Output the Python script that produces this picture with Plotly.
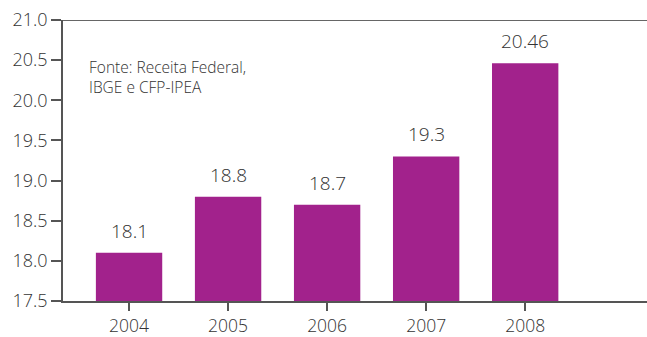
import plotly.graph_objects as go

years = ["2004", "2005", "2006", "2007", "2008"]
values = [18.1, 18.8, 18.7, 19.3, 20.46]
value_labels = ["18.1", "18.8", "18.7", "19.3", "20.46"]
source_note = "Fonte: Receita Federal,<br>IBGE e CFP-IPEA"

FONT = "Open Sans"
WEIGHT = 300
TEXT = "#333333"
AXIS = "#555555"
BAR = "#A2228C"

fig = go.Figure(
    go.Bar(
        x=years,
        y=values,
        marker=dict(color=BAR, line=dict(width=0)),
        width=0.67,
        hoverinfo="skip",
    )
)

# value labels above each bar (x given as category index)
for i, (v, lab) in enumerate(zip(values, value_labels)):
    fig.add_annotation(
        x=i, y=v, text=lab, showarrow=False,
        yanchor="bottom", yshift=7,
        font=dict(family=FONT, size=19, color=TEXT, weight=WEIGHT),
    )

fig.add_annotation(
    xref="paper", yref="paper", x=0.041, y=0.878,
    xanchor="left", yanchor="top", align="left",
    text=source_note, showarrow=False,
    font=dict(family=FONT, size=15.5, color=TEXT, weight=WEIGHT),
)

# top border line at 21.0
fig.add_shape(
    type="line", xref="paper", yref="y", x0=0, x1=1, y0=21.0, y1=21.0,
    line=dict(color="#666666", width=2),
)

fig.update_layout(
    width=647, height=337,
    margin=dict(l=63, r=0, t=20, b=31),
    paper_bgcolor="white", plot_bgcolor="white",
    showlegend=False,
    font=dict(family=FONT, color=TEXT),
)
fig.update_xaxes(
    type="category", range=[-0.667, 5.23],
    showline=True, linecolor=AXIS, linewidth=1.5,
    ticks="outside", ticklen=8, tickcolor=AXIS, tickwidth=1.5,
    showgrid=False, zeroline=False,
    tickfont=dict(family=FONT, size=17.5, color=TEXT, weight=WEIGHT),
)
fig.update_yaxes(
    range=[17.5, 21.0], dtick=0.5, tick0=17.5, tickformat=".1f",
    showline=True, linecolor=AXIS, linewidth=1.5,
    ticks="outside", ticklen=10, tickcolor=AXIS, tickwidth=1.5,
    showgrid=False, zeroline=False,
    tickfont=dict(family=FONT, size=18, color=TEXT, weight=WEIGHT),
)

fig.write_html("out.html")
